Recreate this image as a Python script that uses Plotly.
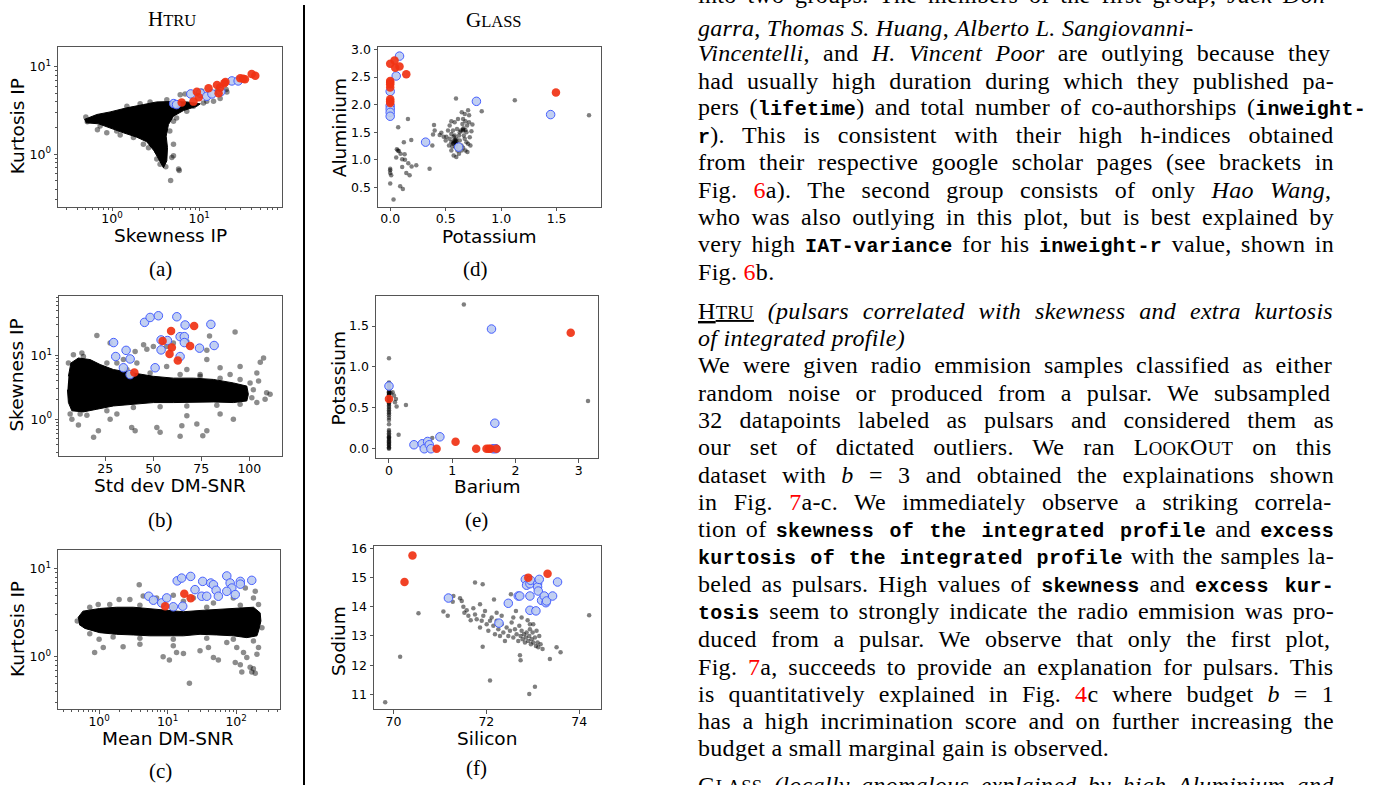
import plotly.graph_objects as go

W, H = 1388, 785

# ======================= DATA =======================
# (a) HTRU: Skewness IP (x, log) vs Kurtosis IP (y, log)
a_core_skew = [0.48, 0.67, 0.95, 1.48, 2.29, 3.26, 4.6, 7.2, 10.3, 9.4, 6.6, 5.07, 4.44, 4.18, 4.33, 4.25, 3.89, 3.5, 3.04, 2.5, 1.92, 1.35, 0.95, 0.70, 0.50]
a_core_kurt = [2.5, 2.85, 3.05, 3.4, 3.7, 3.97, 4.0, 3.97, 3.77, 3.54, 3.16, 2.73, 2.19, 1.61, 1.19, 0.84, 0.70, 0.84, 1.09, 1.39, 1.57, 1.76, 2.01, 2.23, 2.29]
a_black_skew = [0.50, 0.52, 0.68, 1.13, 6.05, 6.9, 10.7, 16, 20.4, 3.26, 3.72, 4.14, 5.8, 5.9, 4.7, 2.86, 5.07, 5.07, 0.58, 0.73,
                0.87, 1.24, 1.76, 2.29, 2.62, 3.26, 3.56, 4.85, 5.07, 4.6, 5.5, 7.2, 8.6, 11.2, 12.2, 14.6, 17.4, 20.8, 4.25, 2.73, 2.1, 1.48]
a_black_kurt = [2.66, 2.35, 1.91, 1.84, 4.8, 4.9, 5.3, 5.3, 5.5, 1.09, 0.92, 0.72, 0.68, 0.65, 0.50, 1.3, 0.96, 2.39, 2.5, 2.1,
                1.76, 1.66, 1.55, 1.3, 1.19, 0.88, 0.77, 0.92, 1.3, 1.84, 2.6, 3.1, 3.54, 3.87, 4.04, 4.04, 4.33, 5.15, 4.2, 3.97, 3.77, 3.54]
a_blue_skew = [5.1, 5.5, 8.0, 10.3, 12.2, 14, 17.7, 23.7, 28]
a_blue_kurt = [3.8, 3.7, 4.9, 5.0, 4.6, 4.9, 5.2, 6.9, 6.9]
a_red_skew = [6.3, 8.6, 9.4, 9.9, 12.8, 16, 16.7, 17.4, 19.4, 20, 29.6, 32, 33.5, 40, 44]
a_red_kurt = [3.9, 4.0, 5.2, 4.5, 5.7, 6.2, 5.0, 5.8, 6.5, 6.7, 7.4, 7.3, 7.2, 8.3, 7.9]

# (b) HTRU: Std dev DM-SNR (x) vs Skewness IP (y, log)
b_core_std = [5.9, 7.2, 11.1, 17.2, 22.4, 29.3, 39.7, 50.1, 60.5, 71, 81.3, 91.7, 98.7, 99.5, 98.7, 91.7, 81.3, 71, 60.5, 50.1, 39.7, 29.3, 20.7, 13.7, 7.7, 5.9, 5.4]
b_core_skew = [4.7, 7.6, 9.1, 8.6, 7.2, 6.0, 5.3, 4.7, 4.4, 4.4, 4.2, 3.7, 3.3, 2.45, 1.93, 1.82, 1.86, 1.82, 1.82, 1.82, 1.71, 1.61, 1.43, 1.3, 1.35, 1.82, 2.9]
b_black_std = [20.7, 79.3, 92.6, 27.6, 45, 50.1, 40.6, 46.7, 57, 77.9, 107.4, 105.7, 103.9, 104.8, 109, 110.8, 108.2, 103.9, 7.7, 11.1,
               19, 21.5, 27.6, 38.8, 40.6, 51.9, 53.6, 64.9, 64, 75.8, 77.9, 72.7, 91.7, 84.8, 67.5, 31.1, 15.5, 43.2, 57, 67.5,
               77.9, 84.8, 95.2, 90, 74.4, 34.5, 31.1, 41.5, 12.9, 60.5, 67.5,
               13.7, 25.9, 36.3, 48.4, 64, 74.4, 84.8, 95.2, 100.4, 102.1, 101.3, 95.2, 83.1, 67.5, 53.6, 39.7, 25.9, 12, 6.8, 5.9, 8.5]
b_black_skew = [20.5, 20.2, 23.3, 15.6, 14.7, 13.8, 11.5, 12.5, 13.8, 12, 9.1, 7.8, 5.3, 3.95, 2.6, 2.45, 2.05, 1.82, 1.0, 0.81,
                0.52, 0.66, 1.0, 0.74, 0.66, 0.74, 0.62, 0.79, 0.54, 0.55, 0.66, 0.84, 1.0, 1.2, 1.13, 1.2, 1.15, 3.3, 6.7, 6.0,
                8.6, 6.4, 6.7, 5.0, 5.0, 8.6, 7.6, 7.6, 10.9, 15.6, 16.5,
                9.6, 7.6, 6.0, 5.3, 5.0, 4.7, 4.4, 4.2, 3.7, 2.9, 2.17, 1.71, 1.65, 1.61, 1.57, 1.52, 1.35, 1.2, 1.2, 7.6, 10.2]
b_blue_std = [29.4, 30.5, 35.9, 38, 34.5, 38, 51, 45.5, 48.4, 52.7, 54.1, 57.4, 62.3, 54.1, 64, 66.2, 66.6, 66.2, 64, 74.1, 80, 81.7]
b_blue_skew = [15.9, 9.6, 12, 8.8, 6.4, 5.0, 6.4, 33, 39.4, 41.9, 17.5, 17.1, 40.4, 12.2, 19.7, 19.7, 30, 15.9, 9.6, 13, 30.7, 14.3]
b_red_std = [40.2, 54.9, 59.3, 59.7, 58.5, 62.8, 69.2, 71.3]
b_red_skew = [5.4, 16.9, 24.2, 13.3, 10.5, 8.3, 14.1, 28.9]

# (c) HTRU: Mean DM-SNR (x, log) vs Kurtosis IP (y, log)
c_core_mean = [0.49, 0.58, 1.02, 1.79, 3.15, 5.5, 9.7, 17, 29.7, 52, 91, 179, 224, 230, 212, 201, 143, 91, 52, 29.7, 17, 9.7, 5.5, 3.15, 1.79, 1.02, 0.62, 0.51]
c_core_kurt = [2.78, 3.3, 3.54, 3.66, 3.66, 3.54, 3.36, 3.25, 3.36, 3.45, 3.54, 3.66, 3.16, 2.55, 1.96, 1.73, 1.65, 1.73, 1.77, 1.8, 1.73, 1.73, 1.73, 1.77, 1.8, 1.88, 2.1, 2.33]
c_black_mean = [3.85, 1.96, 2.81, 0.97, 1.0, 1.15, 0.86, 2.24, 3.94, 12.1, 13.5, 17, 8.6, 10.6, 20.8, 29.7, 39.4, 46.6, 55, 73,
                102, 97, 115, 128, 143, 160, 179, 169, 190, 121, 201, 212, 136, 190, 91, 179, 12.1, 6.9, 23.8, 46.6, 4.4, 17,
                0.73, 1.43, 3.94, 12.1, 37.2, 115, 212, 238, 179, 91, 37.2, 12.1, 3.94, 1.6, 0.73, 0.48]
c_black_kurt = [6.6, 4.47, 4.47, 3.93, 1.58, 1.27, 1.12, 1.3, 1.39, 1.33, 1.12, 1.09, 1.0, 0.92, 0.50, 1.17, 1.27, 0.98, 0.92, 1.45,
                1.27, 0.86, 0.81, 1.12, 0.98, 0.76, 0.73, 0.67, 0.65, 0.67, 1.07, 1.27, 6.05, 5.55, 4.67, 4.67, 5.0, 4.67, 4.67, 4.1, 4.9, 4.28,
                3.66, 3.93, 3.86, 3.66, 3.66, 3.86, 3.93, 2.14, 1.51, 1.58, 1.62, 1.58, 1.62, 1.68, 1.83, 2.55]
c_blue_mean = [5.3, 6.2, 8.2, 9.7, 12.1, 13.8, 16, 21.7, 16.6, 25.1, 31.5, 37.2, 32.5, 42.6, 46.6, 51, 55, 73, 81.7, 86.5, 73, 97, 115, 115, 169]
c_blue_kurt = [4.88, 4.4, 4.1, 4.67, 3.7, 7.3, 7.85, 8.2, 3.76, 5.8, 4.88, 4.88, 7.2, 6.9, 6.6, 5.7, 4.88, 8.3, 6.9, 6.05, 5.55, 5.1, 7.2, 6.7, 7.4]
c_red_mean = [9.2, 17.5, 21.7]
c_red_kurt = [3.76, 5.2, 4.63]

# (d) GLASS: Potassium (x) vs Aluminium (y)
d_black_k_sparse = [1.792, 1.123, 0.825, 0.593, 0.702, 0.645, 0.711, 0.16, 0.072, 0.395, 0.401, 0.386, 0.461, 0.38, 0.19, 0.123, 0.06, 0.078, 0.093, 0.13,
                    0.054, 0.108, 0.133, 0.163, 0.193, 0.235, 0.145, 0.175, 0.108, 0.0, 0.0, 0.009, 0.0, 0.09, 0.114, 0.03, 0.355, 0.069, 0.0]
d_black_al_sparse = [1.81, 2.08, 1.88, 2.11, 1.90, 1.86, 1.81, 1.74, 1.59, 1.63, 1.53, 1.46, 1.49, 1.26, 1.36, 1.32, 1.19, 1.16, 1.11, 1.10,
                     1.04, 1.01, 1.00, 0.94, 0.88, 0.90, 0.76, 0.72, 0.87, 0.84, 0.76, 0.72, 0.57, 0.52, 0.47, 0.28, 0.84, 1.17, 0.81]
d_black_k_cluster = [0.506, 0.536, 0.551, 0.566, 0.572, 0.59, 0.596, 0.602, 0.62, 0.627, 0.636, 0.651, 0.657, 0.663, 0.678, 0.687, 0.693, 0.702, 0.717, 0.732,
                     0.711, 0.672, 0.611, 0.581, 0.536, 0.521, 0.5, 0.53, 0.551, 0.572, 0.596, 0.62, 0.642, 0.657, 0.611, 0.56, 0.581, 0.596, 0.551, 0.566,
                     0.687, 0.723, 0.482, 0.446, 0.678, 0.741, 0.551, 0.657, 0.672, 0.627, 0.581, 0.59, 0.605, 0.642, 0.678, 0.696, 0.572, 0.584, 0.596, 0.57,
                     0.59, 0.60, 0.656, 0.66]
d_black_al_cluster = [1.42, 1.38, 1.47, 1.53, 1.42, 1.35, 1.29, 1.56, 1.44, 1.35, 1.53, 1.65, 1.74, 1.44, 1.54, 1.50, 1.62, 1.29, 1.41, 1.52,
                      1.68, 1.83, 1.74, 1.68, 1.62, 1.53, 1.35, 1.26, 1.17, 1.08, 1.05, 1.11, 1.17, 1.22, 1.23, 1.24, 1.32, 1.38, 1.32, 1.29,
                      1.32, 1.26, 1.42, 1.45, 1.70, 1.64, 1.70, 1.53, 1.38, 1.50, 1.44, 1.23, 1.17, 1.26, 1.17, 1.14, 1.34, 1.36, 1.33, 1.30,
                      1.31, 1.28, 1.55, 1.57]
d_blue_k = [0.084, 0.054, 0, 0, 0, 0, 0, 0.319, 0.617, 0.777, 1.446]
d_blue_al = [2.88, 2.52, 2.24, 1.98, 1.92, 1.86, 1.79, 1.32, 1.23, 2.06, 1.82]
d_red_k = [0, 0.039, 0.045, 0.084, 0.145, 0, 0, 0, 0, 0, 0, 0, 1.494]
d_red_al = [2.742, 2.80, 2.67, 2.69, 2.55, 2.43, 2.40, 2.37, 2.31, 2.10, 2.06, 2.03, 2.22]

# (e) GLASS: Barium (x) vs Potassium (y)
e_black_ba_sparse = [1.184, 0, 3.147, 0.058, 0.11, 0.095, 0.121, 0.268, 0.153, 0.684, 0, 0.079, 0.026]
e_black_k_sparse = [1.763, 1.107, 0.584, 0.689, 0.608, 0.567, 0.515, 0.535, 0.17, 0.13, 0.81, 0.65, 0.68]
e_black_ba_zero = [0, 0, 0, 0, 0, 0, 0, 0, 0, 0, 0, 0, 0, 0, 0, 0, 0, 0, 0, 0, 0, 0, 0, 0,
                   0, 0, 0, 0, 0, 0, 0, 0, 0, 0, 0, 0, 0, 0, 0, 0, 0, 0, 0, 0, 0, 0, 0]
e_black_k_zero = [0.0, 0.01, 0.02, 0.04, 0.05, 0.06, 0.08, 0.09, 0.1, 0.12, 0.13, 0.14, 0.15, 0.17, 0.19, 0.21, 0.23, 0.3, 0.35, 0.38, 0.41, 0.43, 0.45, 0.47,
                  0.49, 0.51, 0.53, 0.55, 0.56, 0.57, 0.58, 0.59, 0.6, 0.61, 0.62, 0.64, 0.65, 0.66, 0.67, 0.68, 0.69, 0.7, 0.72, 0.73, 0.76, 0.78, 0.8]
e_blue_ba = [0, 0.395, 0.526, 0.558, 0.611, 0.637, 0.663, 0.805, 1.621, 1.674, 1.647, 1.689]
e_blue_k = [0.766, 0.049, 0.061, 0, 0.089, 0.049, 0, 0.146, 1.463, 0.312, 0, 0]
e_red_ba = [0, 0.753, 1.053, 1.379, 1.542, 1.579, 1.605, 1.7, 2.874]
e_red_k = [0.608, 0, 0.085, 0, 0, 0, 0, 0, 1.419]

# (f) GLASS: Silicon (x) vs Sodium (y)
f_black_si = [69.821, 70.143, 70.538, 71.075, 71.168, 71.276, 71.29, 71.434, 71.756, 71.921, 72.165, 72.53, 74.215, 73.513, 73.599, 73.369, 72.724, 72.738, 72.079, 72.925,
              73.047, 71.921,
              71.47, 71.505, 71.527, 71.577, 71.613, 71.663, 71.72, 71.756, 71.792, 71.864, 71.864, 71.9, 71.935, 71.971, 72.007, 72.043, 72.079, 72.115, 72.151, 72.186,
              72.222, 72.258, 72.294, 72.33, 72.366, 72.401, 72.437, 72.473, 72.509, 72.545, 72.581, 72.616, 72.652, 72.688, 72.71, 72.738, 72.76, 72.781, 72.81, 72.832,
              72.853, 72.867, 72.889, 72.903, 72.925, 72.939, 72.961, 72.975, 72.996, 73.011, 73.047, 73.068, 73.082, 73.104, 73.118, 73.14, 73.168, 73.211,
              72.76, 72.638, 72.581, 72.33, 72.222, 72.939, 73.011]
f_black_na = [10.73, 12.29, 13.78, 13.84, 13.69, 14.17, 14.37, 14.29, 14.83, 14.77, 14.25, 14.43, 13.71, 12.61, 12.44, 12.21, 12.34, 12.17, 11.47, 11.01,
              11.26, 12.63,
              14.2, 14.0, 13.8, 13.88, 13.69, 13.54, 13.95, 13.74, 13.57, 14.09, 13.29, 13.52, 13.69, 13.86, 13.4, 13.18, 13.52, 13.63, 13.35, 13.06,
              13.52, 13.23, 13.0, 13.4, 13.12, 12.83, 13.29, 13.0, 13.18, 13.46, 12.95, 13.23, 13.06, 12.83, 13.35, 13.0, 13.18, 12.89, 13.06, 12.78,
              12.95, 13.12, 13.54, 12.83, 13.0, 13.23, 12.72, 12.89, 13.12, 12.78, 12.95, 12.66, 13.18, 12.78, 12.61, 13.0, 12.72, 12.55,
              13.63, 13.86, 13.63, 13.69, 13.8, 13.4, 13.4]
f_blue_si = [71.183, 72.272, 72.473, 72.688, 72.72, 72.839, 72.867, 72.939, 72.953, 72.939, 72.939, 73.068, 73.104, 73.104, 73.118, 73.14, 73.19, 73.247, 73.283, 73.297, 73.427, 73.534]
f_blue_na = [14.30, 13.44, 14.12, 14.37, 14.37, 14.94, 14.74, 14.79, 14.91, 14.37, 13.88, 13.86, 14.79, 14.68, 14.54, 14.94, 14.22, 14.37, 14.14, 14.2, 14.37, 14.85]
f_red_si = [70.409, 70.237, 72.903, 73.319]
f_red_na = [15.76, 14.85, 15.0, 15.13]

# Tick labels
log_tick_vals_2 = [1, 10]
log_tick_text_2 = ['10<sup>0</sup>', '10<sup>1</sup>']
log_tick_vals_3 = [1, 10, 100]
log_tick_text_3 = ['10<sup>0</sup>', '10<sup>1</sup>', '10<sup>2</sup>']
b_x_ticks = [25, 50, 75, 100]
b_x_text = ['25', '50', '75', '100']
d_x_ticks = [0, 0.5, 1.0, 1.5]
d_x_text = ['0.0', '0.5', '1.0', '1.5']
d_y_ticks = [0.5, 1.0, 1.5, 2.0, 2.5, 3.0]
d_y_text = ['0.5', '1.0', '1.5', '2.0', '2.5', '3.0']
e_x_ticks = [0, 1, 2, 3]
e_x_text = ['0', '1', '2', '3']
e_y_ticks = [0, 0.5, 1.0, 1.5]
e_y_text = ['0.0', '0.5', '1.0', '1.5']
f_x_ticks = [70, 72, 74]
f_x_text = ['70', '72', '74']
f_y_ticks = [11, 12, 13, 14, 15, 16]
f_y_text = ['11', '12', '13', '14', '15', '16']

# ======================= FIGURE =======================
def minor_log(lo, hi):
    vals = []
    for dec in [0.1, 1, 10, 100]:
        for m in range(2, 10):
            v = m * dec
            if lo <= v <= hi:
                vals.append(v)
    return vals

MINOR = dict(tickmode='array', ticks='outside', ticklen=2, tickwidth=0.8, tickcolor='#555', showgrid=False)

BLACK_HTRU = dict(color='rgba(0,0,0,0.45)', size=5.5, line=dict(width=0))
BLACK_GLASS = dict(color='rgba(0,0,0,0.5)', size=4.5, line=dict(width=0))
RED = dict(color='rgba(240,50,20,0.92)', size=8.5, line=dict(width=0))
BLUE = dict(color='rgba(188,203,240,0.92)', size=8.5, line=dict(color='rgb(70,95,255)', width=1))

panels = [
    dict(box=(58, 282, 42, 203), core=(a_core_skew, a_core_kurt), black=[(a_black_skew, a_black_kurt)],
         blue=(a_blue_skew, a_blue_kurt), red=(a_red_skew, a_red_kurt), bs=BLACK_HTRU,
         xa=dict(type='log', range=[-0.62, 1.95], tickvals=log_tick_vals_2, ticktext=log_tick_text_2,
                 minor=dict(MINOR, tickvals=minor_log(0.24, 89))),
         ya=dict(type='log', range=[-0.60, 1.23], tickvals=log_tick_vals_2, ticktext=log_tick_text_2,
                 minor=dict(MINOR, tickvals=minor_log(0.25, 17)))),
    dict(box=(59, 282, 293, 454), core=(b_core_std, b_core_skew), black=[(b_black_std, b_black_skew)],
         blue=(b_blue_std, b_blue_skew), red=(b_red_std, b_red_skew), bs=BLACK_HTRU,
         xa=dict(type='linear', range=[1, 117], tickvals=b_x_ticks, ticktext=b_x_text),
         ya=dict(type='log', range=[-0.58, 1.93], tickvals=log_tick_vals_2, ticktext=log_tick_text_2,
                 minor=dict(MINOR, tickvals=minor_log(0.26, 85)))),
    dict(box=(58, 280, 548, 709), core=(c_core_mean, c_core_kurt), black=[(c_black_mean, c_black_kurt)],
         blue=(c_blue_mean, c_blue_kurt), red=(c_red_mean, c_red_kurt), bs=BLACK_HTRU,
         xa=dict(type='log', range=[-0.60, 2.64], tickvals=log_tick_vals_3, ticktext=log_tick_text_3,
                 minor=dict(MINOR, tickvals=minor_log(0.25, 436))),
         ya=dict(type='log', range=[-0.60, 1.22], tickvals=log_tick_vals_2, ticktext=log_tick_text_2,
                 minor=dict(MINOR, tickvals=minor_log(0.25, 16.5)))),
    dict(box=(378, 601, 42, 203), core=None,
         black=[(d_black_k_sparse, d_black_al_sparse), (d_black_k_cluster, d_black_al_cluster)],
         blue=(d_blue_k, d_blue_al), red=(d_red_k, d_red_al), bs=BLACK_GLASS,
         xa=dict(range=[-0.11, 1.90], tickvals=d_x_ticks, ticktext=d_x_text),
         ya=dict(range=[0.15, 3.05], tickvals=d_y_ticks, ticktext=d_y_text)),
    dict(box=(376, 598, 293, 456), core=None,
         black=[(e_black_ba_sparse, e_black_k_sparse), (e_black_ba_zero, e_black_k_zero)],
         blue=(e_blue_ba, e_blue_k), red=(e_red_ba, e_red_k), bs=BLACK_GLASS,
         xa=dict(range=[-0.205, 3.305], tickvals=e_x_ticks, ticktext=e_x_text),
         ya=dict(range=[-0.114, 1.865], tickvals=e_y_ticks, ticktext=e_y_text)),
    dict(box=(374, 601, 544, 709), core=None, black=[(f_black_si, f_black_na)],
         blue=(f_blue_si, f_blue_na), red=(f_red_si, f_red_na), bs=BLACK_GLASS,
         xa=dict(range=[69.58, 74.47], tickvals=f_x_ticks, ticktext=f_x_text),
         ya=dict(range=[10.48, 16.1], tickvals=f_y_ticks, ticktext=f_y_text)),
]

fig = go.Figure()
layout = dict(width=W, height=H, margin=dict(l=0, r=0, t=0, b=0), showlegend=False,
              paper_bgcolor='white', plot_bgcolor='white', font=dict(family='DejaVu Sans', color='black'))
AX = dict(showline=True, linecolor='#555', linewidth=1, mirror=True, ticks='outside', ticklen=3.5,
          tickwidth=1, tickcolor='#555', showgrid=False, zeroline=False, tickmode='array',
          tickfont=dict(family='DejaVu Sans', size=12.5, color='black'))

for i, p in enumerate(panels):
    sfx = '' if i == 0 else str(i + 1)
    xa, ya = 'x' + sfx, 'y' + sfx
    if p['core'] is not None:
        fig.add_trace(go.Scatter(x=p['core'][0], y=p['core'][1], mode='lines', fill='toself', fillcolor='black',
                                 line=dict(color='black', width=1), xaxis=xa, yaxis=ya, hoverinfo='skip'))
    for bx, by in p['black']:
        fig.add_trace(go.Scatter(x=bx, y=by, mode='markers', marker=p['bs'], xaxis=xa, yaxis=ya))
    fig.add_trace(go.Scatter(x=p['blue'][0], y=p['blue'][1], mode='markers', marker=BLUE, xaxis=xa, yaxis=ya))
    fig.add_trace(go.Scatter(x=p['red'][0], y=p['red'][1], mode='markers', marker=RED, xaxis=xa, yaxis=ya))
    l, r, t, b = p['box']
    layout['xaxis' + sfx] = dict(AX, **p['xa'], domain=[l / W, r / W], anchor=ya, ticklabelstandoff=-3)
    layout['yaxis' + sfx] = dict(AX, **p['ya'], domain=[1 - b / H, 1 - t / H], anchor=xa)

fig.update_layout(**layout)

annotations = []
def ann(text, px, py, size, family='DejaVu Sans', angle=0, xanchor='center'):
    annotations.append(dict(text=text, x=px / W, y=1 - py / H, xref='paper', yref='paper', showarrow=False,
                            xanchor=xanchor, yanchor='middle', textangle=angle,
                            font=dict(family=family, size=size, color='black')))

# axis titles
AT = 18.5
ann('Skewness IP', 170, 232, AT); ann('Kurtosis IP', 17, 122, AT, angle=-90)
ann('Std dev DM-SNR', 170, 484, AT); ann('Skewness IP', 17, 373, AT, angle=-90)
ann('Mean DM-SNR', 168, 738, AT); ann('Kurtosis IP', 17, 628, AT, angle=-90)
ann('Potassium', 490, 233, AT); ann('Aluminium', 339, 124, AT, angle=-90)
ann('Barium', 487, 485, AT); ann('Potassium', 339, 376, AT, angle=-90)
ann('Silicon', 487, 738, AT); ann('Sodium', 339, 640, AT, angle=-90)

# group titles and sub-figure labels
SERIF = 'Liberation Serif'
ann('H<span style="font-size:16.5px">TRU</span>', 172, 14, 21, SERIF)
ann('G<span style="font-size:16.5px">LASS</span>', 494, 15, 21, SERIF)
for lab, px, py in [('(a)', 160, 266), ('(b)', 160, 518), ('(c)', 160, 771),
                    ('(d)', 475, 266), ('(e)', 476, 518), ('(f)', 476, 768)]:
    ann(lab, px, py, 21, SERIF)

# ---------------- right-hand text column ----------------
S = 24.0
M = 20.0
LS = 0.3
SC = 0.78
TEXT_LEFT = 697
FULL = 636
DY = -2

_lc = 'abcdefghijklmnopqrstuvwxyz'
_uc = 'ABCDEFGHIJKLMNOPQRSTUVWXYZ'
TR = dict(zip(_lc, [444, 500, 444, 500, 444, 333, 500, 500, 278, 278, 500, 278, 778, 500, 500, 500, 500, 333, 389, 278, 500, 500, 722, 500, 500, 444]))
TR.update(zip(_uc, [722, 667, 667, 722, 611, 556, 722, 722, 333, 389, 722, 611, 889, 722, 722, 556, 722, 667, 556, 611, 722, 722, 944, 722, 722, 611]))
TI = dict(zip(_lc, [500, 500, 444, 500, 444, 278, 500, 500, 278, 278, 444, 278, 722, 500, 500, 500, 500, 389, 389, 278, 500, 444, 667, 444, 444, 389]))
TI.update(zip(_uc, [611, 611, 667, 722, 611, 611, 722, 722, 333, 444, 667, 556, 833, 667, 722, 611, 722, 611, 500, 556, 722, 611, 833, 611, 556, 556]))
for tbl in (TR, TI):
    tbl.update({c: 500 for c in '0123456789'})
    tbl.update({' ': 250, '.': 250, ',': 250, '-': 333, '(': 333, ')': 333, '=': 564, ':': 278})

def seg_width(kind, s):
    w = 0.0
    for ch in s:
        if kind == 't':
            w += 600 * M / 1000
        else:
            size = S * SC if kind.startswith('scs') else S
            tbl = TI if kind == 'i' else TR
            w += tbl.get(ch, 500) * size / 1000
        w += LS
    return w

def seg_css(kind, ws):
    css = ['letter-spacing:%.2fpx' % LS, 'word-spacing:%.2fpx' % ws]
    if kind == 't':
        css += ['font-family:Liberation Mono', 'font-size:%.1fpx' % M, 'font-weight:bold']
    else:
        css += ['font-family:Liberation Serif', 'font-size:%.1fpx' % (S * SC if kind.startswith('scs') else S)]
    if kind == 'i':
        css.append('font-style:italic')
    if kind == 'c':
        css.append('fill:#ff0000')
    if kind in ('scbu', 'scsu'):
        css.append('text-decoration:underline')
    return ';'.join(css)

text_lines = [
    (-8, FULL, [('r', 'into two groups. The members of the first group, '), ('i', 'Jack Don-')]),
    (25, None, [('i', 'garra'), ('r', ', '), ('i', 'Thomas S. Huang'), ('r', ', '), ('i', 'Alberto L. Sangiovanni-')]),
    (50, FULL, [('i', 'Vincentelli'), ('r', ', and '), ('i', 'H. Vincent Poor'), ('r', ' are outlying because they')]),
    (78, FULL, [('r', 'had usually high duration during which they published pa-')]),
    (105, 668, [('r', 'pers ('), ('t', 'lifetime'), ('r', ') and total number of co-authorships ('), ('t', 'inweight-')]),
    (133, FULL, [('t', 'r'), ('r', '). This is consistent with their high h-indices obtained')]),
    (160, FULL, [('r', 'from their respective google scholar pages (see brackets in')]),
    (188, FULL, [('r', 'Fig. '), ('c', '6'), ('r', 'a). The second group consists of only '), ('i', 'Hao Wang'), ('r', ',')]),
    (215, FULL, [('r', 'who was also outlying in this plot, but is best explained by')]),
    (243, FULL, [('r', 'very high '), ('t', 'IAT-variance'), ('r', ' for his '), ('t', 'inweight-r'), ('r', ' value, shown in')]),
    (271, None, [('r', 'Fig. '), ('c', '6'), ('r', 'b.')]),
    (310, FULL, [('scbu', 'H'), ('scsu', 'TRU'), ('i', ' (pulsars correlated with skewness and extra kurtosis')]),
    (337, None, [('i', 'of integrated profile)')]),
    (364, FULL, [('r', 'We were given radio emmision samples classified as either')]),
    (392, FULL, [('r', 'random noise or produced from a pulsar. We subsampled')]),
    (420, FULL, [('r', '32 datapoints labeled as pulsars and considered them as')]),
    (447, FULL, [('r', 'our set of dictated outliers. We ran '), ('scb', 'L'), ('scs', 'OOK'), ('scb', 'O'), ('scs', 'UT'), ('r', ' on this')]),
    (475, FULL, [('r', 'dataset with '), ('i', 'b'), ('r', ' = 3 and obtained the explainations shown')]),
    (502, FULL, [('r', 'in Fig. '), ('c', '7'), ('r', 'a-c. We immediately observe a striking correla-')]),
    (530, FULL, [('r', 'tion of '), ('t', 'skewness of the integrated profile'), ('r', ' and '), ('t', 'excess')]),
    (557, FULL, [('t', 'kurtosis of the integrated profile'), ('r', ' with the samples la-')]),
    (585, FULL, [('r', 'beled as pulsars. High values of '), ('t', 'skewness'), ('r', ' and '), ('t', 'excess kur-')]),
    (612, FULL, [('t', 'tosis'), ('r', ' seem to strongly indicate the radio emmision was pro-')]),
    (640, FULL, [('r', 'duced from a pulsar. We observe that only the first plot,')]),
    (668, FULL, [('r', 'Fig. '), ('c', '7'), ('r', 'a, succeeds to provide an explanation for pulsars. This')]),
    (695, FULL, [('r', 'is quantitatively explained in Fig. '), ('c', '4'), ('r', 'c where budget '), ('i', 'b'), ('r', ' = 1')]),
    (723, FULL, [('r', 'has a high incrimination score and on further increasing the')]),
    (750, None, [('r', 'budget a small marginal gain is observed.')]),
    (787, FULL, [('scb', 'G'), ('scs', 'LASS'), ('i', ' (locally anomalous explained by high Aluminium and')]),
]

for yc, target, segs in text_lines:
    natural = sum(seg_width(k, s) for k, s in segs)
    nsp = sum(s.count(' ') for k, s in segs)
    ws = 0.0 if (target is None or nsp == 0) else max(0.0, (target - natural) / nsp)
    html = ''.join('<span style="%s">%s</span>' % (seg_css(k, ws), s) for k, s in segs)
    annotations.append(dict(text=html, x=TEXT_LEFT / W, y=1 - (yc + DY) / H, xref='paper', yref='paper',
                            showarrow=False, xanchor='left', yanchor='middle', borderpad=0,
                            font=dict(family=SERIF, size=S, color='black')))

fig.update_layout(annotations=annotations,
                  shapes=[dict(type='line', xref='paper', yref='paper', x0=304 / W, x1=304 / W, y0=0, y1=1,
                               line=dict(color='black', width=2))])

fig.write_html('out.html', config={'displayModeBar': False},
               post_script="document.body.style.margin='0px';document.body.style.overflow='hidden';")
